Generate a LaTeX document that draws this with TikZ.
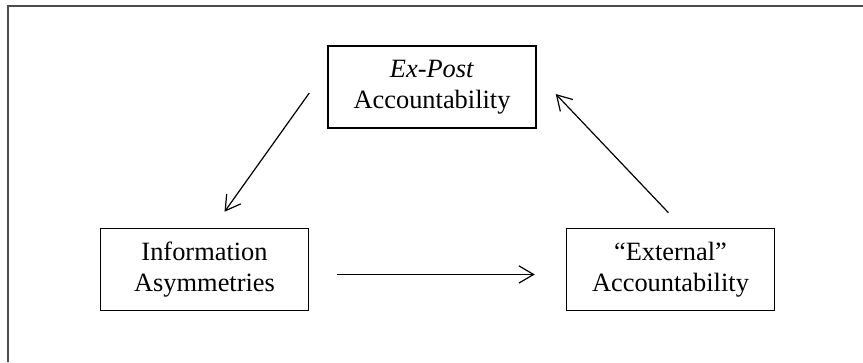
\documentclass[tikz,border=0pt]{standalone}
\usepackage{fontspec}
\setmainfont{Liberation Serif}
\usetikzlibrary{arrows.meta,positioning}
\tikzset{
  accbox/.style = {draw, line width=1.1pt, align=center, inner sep=0pt, minimum width=156pt,
  minimum height=61.5pt, font=\fontsize{19.8}{23}\selectfont},
  acc_arr/.style = {-{Straight Barb[length=11pt,width=13pt,line width=0.9pt]}, line width=0.9pt}
}
\begin{document}
\begin{tikzpicture}
  \useasboundingbox (0,0) rectangle (647.25pt,-271.5pt);
  % frame
  \draw[line width=1.2pt, black!70] (5.8pt,-271.5pt) -- (5.8pt,-4.3pt) -- (647.25pt,-4.3pt);
  % boxes
  \node [accbox] (expost) at (324pt,-65.25pt) {\textit{Ex-Post}\\Accountability};
  \node [accbox, below left=74.25pt and 13.5pt of expost] (info) {Information\\Asymmetries};
  \node [accbox, below right=74.25pt and 21.75pt of expost] (extern) {``External''\\Accountability};
  % arrows
  \draw[acc_arr] ([xshift=-13.5pt,yshift=-4.5pt]expost.west) -- ([xshift=15pt,yshift=12pt]info.north);
  \draw[acc_arr] ([xshift=21pt,yshift=-3.75pt]info.east) -- ([xshift=-23.25pt,yshift=-3.75pt]extern.west);
  \draw[acc_arr] ([xshift=-1.5pt,yshift=11.25pt]extern.north) -- ([xshift=14.25pt,yshift=-5.25pt]expost.east);
\end{tikzpicture}
\end{document}
